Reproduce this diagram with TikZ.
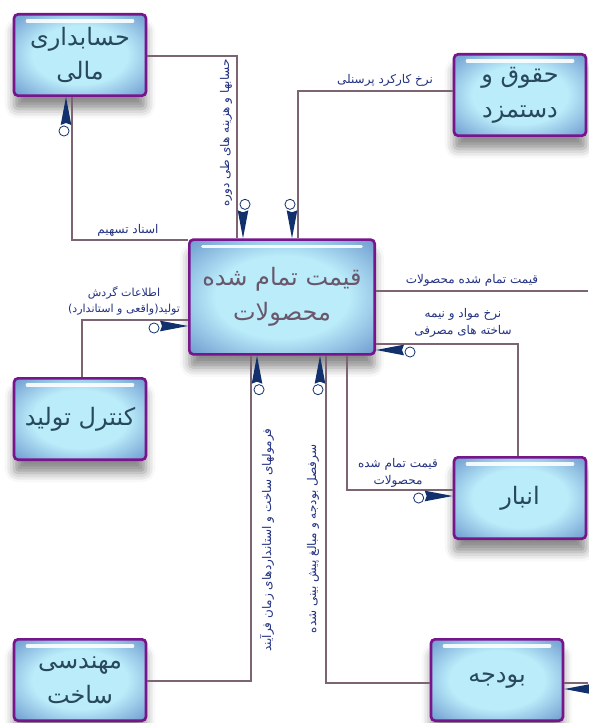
\documentclass[tikz,border=0pt]{standalone}
\usepackage{fontspec}
\usepackage{tikz}
\usetikzlibrary{decorations.markings,shadows.blur}
\TeXXeTstate=1
\newfontfamily\fa[Script=Arabic]{DejaVu Sans}
\definecolor{boxrim}{RGB}{120,20,140}
\definecolor{glowin}{RGB}{186,236,250}
\definecolor{glowout}{RGB}{45,85,170}
\definecolor{boxtext}{RGB}{40,72,92}
\definecolor{costtext}{RGB}{105,88,108}
\definecolor{labelblue}{RGB}{35,50,130}
\definecolor{wireclr}{RGB}{125,100,115}
\definecolor{headblue}{RGB}{18,48,108}
\pgfdeclareradialshading{boxglow}{\pgfpoint{0bp}{0bp}}{color(0bp)=(glowin); color(18bp)=(glowin); color(50bp)=(glowout); color(72bp)=(glowout)}
\newcommand\flowhead[1]{%
  \fill[headblue] (0pt,#1*4.5pt) -- (-21pt,#1*8.5pt) -- (-19.5pt,#1*4.5pt) -- (-21pt,#1*0.5pt) -- cycle;
  \draw[headblue, line width=0.6pt] (-25.5pt,#1*6pt) circle (3.8pt);}

\begin{document}
\begin{tikzpicture}[x=0.75pt,y=-0.75pt,
  unit/.style={draw=boxrim, line width=2pt, rounded corners=3pt, shading=boxglow,
    minimum width=99pt, minimum height=61pt, inner sep=0pt, align=center,
    font=\fa\fontsize{18}{26}\selectfont, text=boxtext,
    blur shadow={shadow xshift=0pt, shadow yshift=-10pt, shadow blur radius=7pt, shadow opacity=45},
    path picture={\draw[white, line width=2.5pt, line cap=round, opacity=.9]
      ([xshift=10pt,yshift=-5pt]path picture bounding box.north west) --
      ([xshift=-10pt,yshift=-5pt]path picture bounding box.north east);}},
  wire/.style={draw=wireclr, line width=1pt},
  headL/.style={postaction={decorate,decoration={markings,mark=at position 1 with {\flowhead{1}}}}},
  headR/.style={postaction={decorate,decoration={markings,mark=at position 1 with {\flowhead{-1}}}}},
  tag/.style={font=\fa\fontsize{9}{13}\selectfont, text=labelblue, align=center, inner sep=1pt}]
\useasboundingbox (0,0) rectangle (588,723);

\node[unit] (acc) at (80,55) {\beginR حسابداری\endR\\\beginR مالی\endR};
\node[unit] (pay) at (520,95) {\beginR حقوق و\endR\\\beginR دستمزد\endR};
\node[unit, minimum width=139pt, minimum height=86pt, text=costtext] (cost) at (282,297)
  {\beginR قیمت تمام شده\endR\\\beginR محصولات\endR};
\node[unit] (ctrl) at (80,419) {\beginR کنترل تولید\endR};
\node[unit] (store) at (520,498) {\beginR انبار\endR};
\node[unit] (budget) at (497,680) {\beginR بودجه\endR};
\node[unit] (eng) at (80,680) {\beginR مهندسی\endR\\\beginR ساخت\endR};

\coordinate (c1) at (237,56);
\coordinate (c2) at (298,91);
\coordinate (c3) at (72,240);
\coordinate (c4) at (82,320);
\coordinate (c5) at (588,291);
\coordinate (c6) at (518,344);
\coordinate (c7) at (347,490);
\coordinate (c8) at (251,681);
\coordinate (c9) at (326,683);
\coordinate (c10) at (588,683);

\draw[wire, headL] (acc.east |- c1) -| (c1 |- cost.north);
\draw[wire, headR] (pay.west |- c2) -| (c2 |- cost.north);
\draw[wire, headL] (cost.west |- c3) -| (c3 |- acc.south);
\draw[wire, headR] (c4 |- ctrl.north) |- (cost.west |- c4);
\draw[wire] (cost.east |- c5) -- (c5);
\draw[wire, headL] (c6 |- store.north) |- (cost.east |- c6);
\draw[wire, headR] (c7 |- cost.south) |- (store.west |- c7);
\draw[wire, headR] (eng.east |- c8) -| (c8 |- cost.south);
\draw[wire, line width=2.2pt] (eng.east |- c8) -- (c8);
\draw[wire, headL] (budget.west |- c9) -| (c9 |- cost.south);
\draw[wire, line width=2.2pt] (budget.west |- c9) -- (c9);
\draw[wire, headL] (c10) -- (budget.east |- c10);

\node[tag, rotate=90] (t1) at (226,133) {\beginR حسابها و هزینه های طی دوره\endR};
\node[tag] (t2) at (385,80) {\beginR نرخ کارکرد پرسنلی\endR};
\node[tag] (t3) at (128,230) {\beginR اسناد تسهیم\endR};
\node[tag, font=\fa\fontsize{8.3}{12.5}\selectfont] (t4) at (124,301)
  {\beginR اطلاعات گردش\endR\\\beginR تولید(واقعی و استاندارد)\endR};
\node[tag] (t5) at (472,280) {\beginR قیمت تمام شده محصولات\endR};
\node[tag] (t6) at (463,323) {\beginR نرخ مواد و  نیمه\endR\\\beginR ساخته های مصرفی\endR};
\node[tag] (t7) at (398,473) {\beginR قیمت تمام شده\endR\\\beginR محصولات\endR};
\node[tag, rotate=90] (t8) at (267,540) {\beginR فرمولهای ساخت و استانداردهای زمان فرآیند\endR};
\node[tag, rotate=90] (t9) at (313,539) {\beginR سرفصل بودجه و مبالغ پیش بینی شده\endR};
\end{tikzpicture}
\end{document}
